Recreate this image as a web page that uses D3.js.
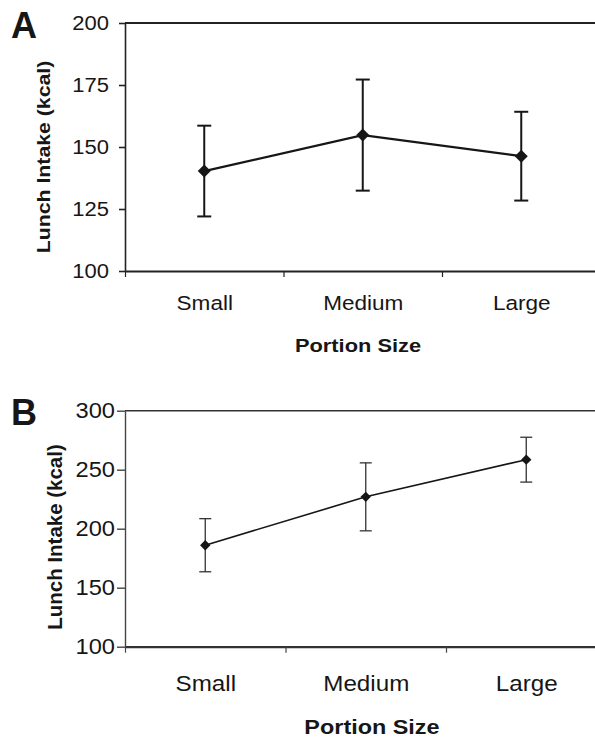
<!DOCTYPE html>
<html>
<head>
<meta charset="utf-8">
<script src="https://cdn.jsdelivr.net/npm/d3@7"></script>
<style>
  html, body { margin: 0; padding: 0; background: #fff; }
  svg { display: block; font-family: "Liberation Sans", Arial, sans-serif; }
</style>
</head>
<body>
<svg id="chart" width="595" height="737"></svg>
<script>
// ---- data ----
const categories = ["Small", "Medium", "Large"];
const meansA = [140.3, 154.8, 146.3];
const errA = [18.3, 22.4, 17.9];
const meansB = [186, 227, 258.5];
const errB = [22.5, 28.8, 19];
const ticksA = [100, 125, 150, 175, 200];
const ticksB = [100, 150, 200, 250, 300];
const panelLabels = ["A", "B"];
const xTitle = "Portion Size";
const yTitle = "Lunch Intake (kcal)";

const svg = d3.select("#chart");
const ink = "#161616";

function stretch(sel, f) {
  sel.each(function () {
    const len = this.getComputedTextLength();
    d3.select(this).attr("textLength", len * f).attr("lengthAdjust", "spacingAndGlyphs");
  });
}

function drawPanel(opt, means, errs, ticks, label) {
  const g = svg.append("g");
  const y = d3.scaleLinear().domain([ticks[0], ticks[ticks.length - 1]]).range([opt.bottom, opt.top]);
  const x = d3.scaleLinear().domain([0, categories.length]).range([opt.left, opt.right]);

  // top frame line
  g.append("line")
    .attr("x1", opt.left).attr("x2", opt.right)
    .attr("y1", y(ticks[ticks.length - 1])).attr("y2", y(ticks[ticks.length - 1]))
    .attr("stroke", opt.frameColor).attr("stroke-width", opt.frameWidth);

  // y axis
  const ya = g.append("g").attr("transform", `translate(${opt.left},0)`)
    .call(d3.axisLeft(y).tickValues(ticks).tickSize(opt.yTick).tickPadding(opt.yPad).tickSizeOuter(0));
  ya.select(".domain").attr("stroke", opt.axisColor).attr("stroke-width", opt.axisWidth);
  ya.selectAll(".tick line").attr("stroke", opt.axisColor).attr("stroke-width", opt.axisWidth);
  ya.selectAll(".tick text").attr("font-size", opt.tickFont).attr("fill", ink)
    .attr("font-family", "Liberation Sans, Arial, sans-serif");
  stretch(ya.selectAll(".tick text"), opt.tickStretch);

  // x axis (boundary ticks)
  const xa = g.append("g").attr("transform", `translate(0,${opt.bottom})`)
    .call(d3.axisBottom(x).tickValues(d3.range(categories.length + 1)).tickFormat("").tickSize(opt.xTick).tickSizeOuter(0));
  xa.select(".domain").attr("stroke", opt.xAxisColor).attr("stroke-width", opt.xAxisWidth);
  xa.selectAll(".tick line").attr("stroke", opt.axisColor).attr("stroke-width", 1.2);

  // category labels
  const xl = g.append("g").attr("transform", `translate(0,${opt.bottom})`)
    .call(d3.axisBottom(x).tickValues(categories.map((c, i) => i + 0.5))
      .tickFormat((d) => categories[Math.floor(d)]).tickSize(0).tickPadding(opt.catPad));
  xl.select(".domain").remove();
  xl.selectAll(".tick text").attr("font-size", opt.catFont).attr("fill", ink)
    .attr("font-family", "Liberation Sans, Arial, sans-serif");
  stretch(xl.selectAll(".tick text"), opt.tickStretch);

  // titles
  const xt = g.append("text").attr("x", opt.xTitleX).attr("y", opt.xTitleY)
    .attr("text-anchor", "middle").attr("font-weight", "bold").attr("font-size", opt.titleFont)
    .attr("fill", ink).text(xTitle);
  stretch(xt, opt.titleStretch);
  const yt = g.append("text")
    .attr("transform", `translate(${opt.yTitleX},${opt.yTitleY}) rotate(-90)`)
    .attr("text-anchor", "middle").attr("font-weight", "bold").attr("font-size", opt.titleFont)
    .attr("fill", ink).text(yTitle);
  stretch(yt, opt.yTitleStretch);

  g.append("text").attr("x", opt.labelX).attr("y", opt.labelY)
    .attr("font-weight", "bold").attr("font-size", opt.labelFont).attr("fill", ink).text(label);

  const cx = (i) => x(i + 0.5);

  // connecting line
  g.append("path")
    .datum(means)
    .attr("d", d3.line().x((d, i) => cx(i)).y((d) => y(d)))
    .attr("fill", "none").attr("stroke", ink).attr("stroke-width", opt.lineWidth);

  // error bars
  const eb = g.selectAll(".eb").data(means).enter().append("g").attr("class", "eb")
    .attr("stroke", opt.errColor).attr("stroke-width", opt.errWidth);
  eb.append("line").attr("x1", (d, i) => cx(i)).attr("x2", (d, i) => cx(i))
    .attr("y1", (d, i) => y(d - errs[i])).attr("y2", (d, i) => y(d + errs[i]));
  eb.append("line").attr("x1", (d, i) => cx(i) - opt.cap / 2).attr("x2", (d, i) => cx(i) + opt.cap / 2)
    .attr("y1", (d, i) => y(d + errs[i])).attr("y2", (d, i) => y(d + errs[i]));
  eb.append("line").attr("x1", (d, i) => cx(i) - opt.cap / 2).attr("x2", (d, i) => cx(i) + opt.cap / 2)
    .attr("y1", (d, i) => y(d - errs[i])).attr("y2", (d, i) => y(d - errs[i]));

  // diamond markers
  g.selectAll(".mk").data(means).enter().append("path").attr("class", "mk")
    .attr("d", d3.symbol(d3.symbolSquare, opt.markerSize))
    .attr("transform", (d, i) => `translate(${cx(i)},${y(d)}) rotate(45)`)
    .attr("fill", ink);
}

drawPanel({
  left: 125, right: 600.5, top: 23, bottom: 271,
  frameColor: "#222", frameWidth: 2, axisColor: "#222", axisWidth: 1.6,
  xAxisColor: "#222", xAxisWidth: 2,
  yTick: 6, yPad: 10, xTick: 6, catPad: 24,
  tickFont: 20, catFont: 20.5, tickStretch: 1.1,
  titleFont: 18.5, titleStretch: 1.18, yTitleStretch: 1.15,
  xTitleX: 358, xTitleY: 352, yTitleX: 50, yTitleY: 157,
  labelX: 11, labelY: 38, labelFont: 36,
  lineWidth: 2.2, errColor: ink, errWidth: 2, cap: 14, markerSize: 84
}, meansA, errA, ticksA, panelLabels[0]);

drawPanel({
  left: 125, right: 606.5, top: 410.7, bottom: 646.7,
  frameColor: "#333", frameWidth: 1.5, axisColor: "#444", axisWidth: 1.4,
  xAxisColor: "#333", xAxisWidth: 2.2,
  yTick: 8, yPad: 2, xTick: 6, catPad: 29,
  tickFont: 21.5, catFont: 22, tickStretch: 1.1,
  titleFont: 19.5, titleStretch: 1.2, yTitleStretch: 1.05,
  xTitleX: 372, xTitleY: 734, yTitleX: 62, yTitleY: 537,
  labelX: 11, labelY: 425, labelFont: 36,
  lineWidth: 1.6, errColor: "#333", errWidth: 1.3, cap: 12, markerSize: 54
}, meansB, errB, ticksB, panelLabels[1]);
</script>
</body>
</html>
